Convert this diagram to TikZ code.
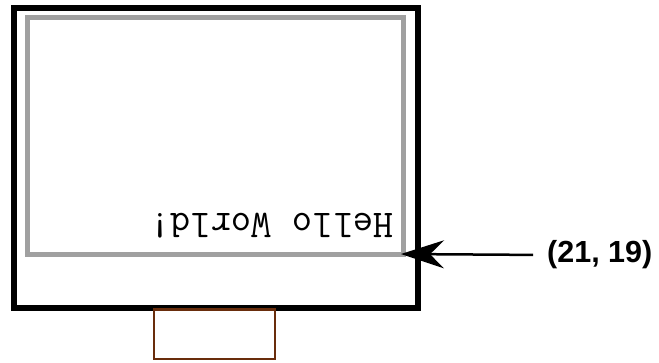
\documentclass[tikz,border=0pt]{standalone}
\usepackage{fontspec}
\setsansfont{Liberation Sans}
\usepackage{tikz}
\usetikzlibrary{arrows.meta}
\definecolor{screengray}{RGB}{160,160,160}
\definecolor{tabbrown}{RGB}{105,45,12}

\begin{document}
\begin{tikzpicture}[x=1bp,y=-1bp,
  frame/.style={draw=black,line width=6bp},
  screen/.style={draw=screengray,line width=5bp},
  tab/.style={draw=tabbrown,line width=2.5bp},
  pointer/.style={-{Stealth[length=43bp,width=28bp,inset=14bp]},line width=2.5bp},
  coordlabel/.style={inner sep=0pt,font=\sffamily\bfseries\fontsize{30.5bp}{32bp}\selectfont},
  flipped/.style={inner sep=0pt,rotate=180,font=\ttfamily\fontsize{39.5bp}{42bp}\selectfont}]
\useasboundingbox (0,0) rectangle (659,362);

% Outer frame
\draw[frame] (13.5,8) rectangle (417.5,308);

% Screen area
\draw[screen] (27,17.5) rectangle (403,254.5);
\coordinate (corner) at (401,254);

% Tab below the frame
\draw[tab] (154,309.5) rectangle (275,359);

% Upside-down text
\node[flipped,anchor=base west] (hello) at (394,213) {Hello World!};

% Corner pointer
\node[coordlabel,anchor=west] (lbl) at (547,255) {(21, 19)};
\draw[pointer,shorten <=14bp] (lbl.west) -- (corner);
\end{tikzpicture}
\end{document}
